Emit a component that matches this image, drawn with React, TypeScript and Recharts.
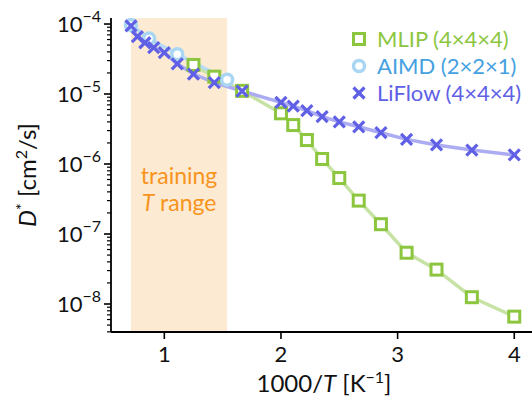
import { LineChart, Line, XAxis, YAxis, ReferenceArea } from "recharts";

const FONT = "Lato, 'DejaVu Sans', sans-serif";

// temperatures in K, plotted as 1000/T
const mlipTemps = [800, 700, 600, 500, 475, 450, 425, 400, 375, 350, 325, 300, 275, 250];
const mlipD = [2.6e-5, 1.77e-5, 1.11e-5, 5.3e-6, 3.6e-6, 2.2e-6, 1.18e-6, 6.3e-7, 3.0e-7, 1.38e-7, 5.4e-8, 3.1e-8, 1.25e-8, 6.6e-9];

const aimdTemps = [1400, 1150, 900, 650];
const aimdD = [9.7e-5, 6.2e-5, 3.7e-5, 1.6e-5];

const liflowTemps = [1400, 1300, 1200, 1100, 1000, 900, 800, 700, 600, 500, 475, 450, 425, 400, 375, 350, 325, 300, 275, 250];
const liflowD = [9.4e-5, 6.6e-5, 5.4e-5, 4.6e-5, 3.9e-5, 2.7e-5, 1.93e-5, 1.45e-5, 1.1e-5, 7.6e-6, 6.7e-6, 5.8e-6, 4.75e-6, 4.0e-6, 3.4e-6, 2.8e-6, 2.25e-6, 1.87e-6, 1.58e-6, 1.35e-6];

const trainingTemps = [1400, 650];

const xTicks = [1, 2, 3, 4];
const yMajorExps = [-8, -7, -6, -5, -4];
const yMinorExps = [-9, -8, -7, -6, -5];
const minorMults = [2, 3, 4, 5, 6, 7, 8, 9];

const X_DOMAIN = [0.543, 4.152];
const Y_DOMAIN = [Math.pow(10, -8.4), Math.pow(10, -3.914)];

const GREEN = "#8cc63f";
const GREEN_LINE = "#c6e3a4";
const BLUE = "#a9d6f2";
const BLUE_TEXT = "#45a1e0";
const BLUE_LINE = "#b8dcf3";
const PURPLE = "#6060e6";
const PURPLE_LINE = "#acacf2";
const ORANGE = "#f7941d";

const toRows = (temps: number[], vals: number[]) => temps.map((t, i) => ({ x: 1000 / t, y: vals[i] }));

const mlipData = toRows(mlipTemps, mlipD);
const aimdData = toRows(aimdTemps, aimdD);
const liflowData = toRows(liflowTemps, liflowD);

const yTicks = [
  ...yMajorExps.map((e) => Math.pow(10, e)),
  ...yMinorExps.flatMap((e) => minorMults.map((m) => m * Math.pow(10, e))),
].filter((v) => v >= Y_DOMAIN[0] && v <= Y_DOMAIN[1]);

const SquareDot = (props: any) => {
  const { cx, cy } = props;
  if (cx == null || cy == null) return null;
  return <rect x={cx - 5.5} y={cy - 5.5} width={11} height={11} fill="#fff" stroke={GREEN} strokeWidth={3} />;
};

const CircleDot = (props: any) => {
  const { cx, cy } = props;
  if (cx == null || cy == null) return null;
  return <circle cx={cx} cy={cy} r={5.5} fill="#fff" stroke={BLUE} strokeWidth={3.5} />;
};

const CrossDot = (props: any) => {
  const { cx, cy } = props;
  if (cx == null || cy == null) return null;
  const s = 5.5;
  return (
    <g stroke={PURPLE} strokeWidth={3.2}>
      <line x1={cx - s} y1={cy - s} x2={cx + s} y2={cy + s} />
      <line x1={cx - s} y1={cy + s} x2={cx + s} y2={cy - s} />
    </g>
  );
};

const YTick = (props: any) => {
  const { x, y, payload } = props;
  const lg = Math.log10(payload.value);
  const exp = Math.round(lg);
  const major = Math.abs(lg - exp) < 1e-6;
  if (!major) return <line x1={x} x2={x - 4} y1={y} y2={y} stroke="#000" strokeWidth={1.2} />;
  return (
    <g>
      <line x1={x} x2={x - 7} y1={y} y2={y} stroke="#000" strokeWidth={1.6} />
      <text x={x - 10} y={y + 8} textAnchor="end" fontFamily={FONT} fontSize={22} fill="#111">
        10<tspan dy={-10} fontSize={16}>{`\u2212${-exp}`}</tspan>
      </text>
    </g>
  );
};

const XTick = (props: any) => {
  const { x, y, payload } = props;
  return (
    <g>
      <line x1={x} x2={x} y1={y} y2={y + 7} stroke="#000" strokeWidth={1.6} />
      <text x={x} y={y + 30} textAnchor="middle" fontFamily={FONT} fontSize={22} fill="#111">
        {payload.value}
      </text>
    </g>
  );
};

const XLabel = () => (
  <text x={324} y={392} textAnchor="middle" fontFamily={FONT} fontSize={24} fill="#111">
    1000/<tspan fontStyle="italic">T</tspan> [K<tspan dy={-9} fontSize={16}>{"\u22121"}</tspan>
    <tspan dy={9}>]</tspan>
  </text>
);

const YLabel = () => (
  <text
    x={0}
    y={0}
    transform="translate(36,175) rotate(-90)"
    textAnchor="middle"
    fontFamily={FONT}
    fontSize={24}
    fill="#111"
  >
    <tspan fontStyle="italic">D</tspan>
    <tspan dy={-9} fontSize={16}>*</tspan>
    <tspan dy={9}> [cm</tspan>
    <tspan dy={-9} fontSize={16}>2</tspan>
    <tspan dy={9}>/s]</tspan>
  </text>
);

const TrainingLabel = (props: any) => {
  const vb = props.viewBox || {};
  const cx = vb.x + vb.width / 2;
  return (
    <g fontFamily={FONT} fontSize={23} fill={ORANGE} textAnchor="middle">
      <text x={cx} y={184}>training</text>
      <text x={cx} y={211}>
        <tspan fontStyle="italic">T</tspan> range
      </text>
    </g>
  );
};

const legendItems = [
  { label: "MLIP (4\u00d74\u00d74)", color: GREEN, marker: "square" },
  { label: "AIMD (2\u00d72\u00d71)", color: BLUE_TEXT, marker: "circle" },
  { label: "LiFlow (4\u00d74\u00d74)", color: PURPLE, marker: "cross" },
];

const LegendMarker = ({ kind }: { kind: string }) => (
  <svg width={16} height={16} style={{ display: "block" }}>
    {kind === "square" && <SquareDot cx={8} cy={8} />}
    {kind === "circle" && <CircleDot cx={8} cy={8} />}
    {kind === "cross" && <CrossDot cx={8} cy={8} />}
  </svg>
);

export default function App() {
  return (
    <div style={{ position: "absolute", left: 0, top: 0, width: 532, height: 401, background: "#fff" }}>
      <LineChart width={532} height={401} margin={{ top: 18, right: 0, left: 0, bottom: 0 }}>
        <ReferenceArea
          x1={1000 / trainingTemps[0]}
          x2={1000 / trainingTemps[1]}
          fill={ORANGE}
          fillOpacity={0.2}
          stroke="none"
          ifOverflow="hidden"
          label={<TrainingLabel />}
        />
        <XAxis
          type="number"
          dataKey="x"
          domain={X_DOMAIN}
          allowDataOverflow
          ticks={xTicks}
          interval={0}
          tick={<XTick />}
          tickLine={false}
          tickSize={0}
          tickMargin={0}
          height={69}
          axisLine={{ stroke: "#000", strokeWidth: 1.8 }}
          label={<XLabel />}
        />
        <YAxis
          type="number"
          dataKey="y"
          scale="log"
          domain={Y_DOMAIN}
          allowDataOverflow
          ticks={yTicks}
          interval={0}
          tick={<YTick />}
          tickLine={false}
          tickSize={0}
          tickMargin={0}
          width={111}
          axisLine={{ stroke: "#000", strokeWidth: 1.8 }}
          label={<YLabel />}
        />
        <Line
          data={mlipData}
          dataKey="y"
          type="linear"
          stroke={GREEN_LINE}
          strokeWidth={3.5}
          dot={<SquareDot />}
          activeDot={false}
          isAnimationActive={false}
        />
        <Line
          data={aimdData}
          dataKey="y"
          type="linear"
          stroke={BLUE_LINE}
          strokeWidth={3.5}
          dot={<CircleDot />}
          activeDot={false}
          isAnimationActive={false}
        />
        <Line
          data={liflowData}
          dataKey="y"
          type="linear"
          stroke={PURPLE_LINE}
          strokeWidth={3.5}
          dot={<CrossDot />}
          activeDot={false}
          isAnimationActive={false}
        />
      </LineChart>
      <div style={{ position: "absolute", left: 351, top: 25, fontFamily: FONT, fontSize: 22 }}>
        {legendItems.map((it) => (
          <div key={it.label} style={{ display: "flex", alignItems: "center", height: 27 }}>
            <LegendMarker kind={it.marker} />
            <span style={{ color: it.color, marginLeft: 10, whiteSpace: "nowrap" }}>{it.label}</span>
          </div>
        ))}
      </div>
    </div>
  );
}
